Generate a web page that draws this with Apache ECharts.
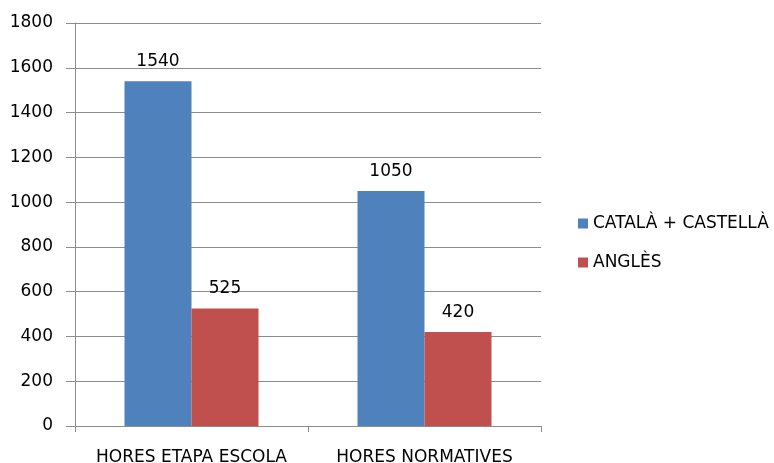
<!DOCTYPE html>
<html>
<head>
<meta charset="utf-8">
<script src="https://cdn.jsdelivr.net/npm/echarts@6/dist/echarts.min.js"></script>
<style>html,body{margin:0;padding:0;background:#fff;}#c{width:774px;height:463px;}</style>
</head>
<body>
<div id="c"></div>
<script>
const categories = ['HORES ETAPA ESCOLA', 'HORES NORMATIVES'];
const seriesNames = ['CATALÀ + CASTELLÀ', 'ANGLÈS'];
const catalaCastella = [1540, 1050];
const angles = [525, 420];
const yMin = 0, yMax = 1800, yInterval = 200;

const font = '"DejaVu Sans", sans-serif';
const fs = 17;
const chart = echarts.init(document.getElementById('c'), null, {renderer: 'canvas'});
const labelStyle = {show: true, position: 'top', distance: 11, color: '#000', fontSize: fs, fontFamily: font};
chart.setOption({
  animation: false,
  backgroundColor: '#fff',
  grid: {left: 75, right: 233, top: 23, bottom: 37, containLabel: false, outerBoundsMode: 'none'},
  legend: {
    orient: 'vertical', left: 573, top: 210,
    itemWidth: 10, itemHeight: 10, itemGap: 22, icon: 'rect',
    textStyle: {color: '#000', fontSize: fs, fontFamily: font},
    data: seriesNames
  },
  xAxis: {
    type: 'category', data: categories,
    axisLine: {lineStyle: {color: '#8c8c8c', width: 1}},
    axisTick: {show: true, length: 6, lineStyle: {color: '#8c8c8c'}},
    axisLabel: {color: '#000', fontSize: fs, fontFamily: font, margin: 23, interval: 0, hideOverlap: false}
  },
  yAxis: {
    type: 'value', min: yMin, max: yMax, interval: yInterval,
    axisLine: {show: true, lineStyle: {color: '#8c8c8c', width: 1}},
    axisTick: {show: true, length: 9, lineStyle: {color: '#8c8c8c'}},
    splitLine: {lineStyle: {color: '#8c8c8c', width: 1}},
    axisLabel: {color: '#000', fontSize: fs, fontFamily: font, margin: 22,
      formatter: function (v) { return String(v); }}
  },
  series: [
    {name: seriesNames[0], type: 'bar', data: catalaCastella, barWidth: 67, barGap: '0%',
     itemStyle: {color: '#4F81BD'}, label: labelStyle},
    {name: seriesNames[1], type: 'bar', data: angles, barWidth: 67, barGap: '0%',
     itemStyle: {color: '#C0504D'}, label: labelStyle}
  ]
});
</script>
</body>
</html>
